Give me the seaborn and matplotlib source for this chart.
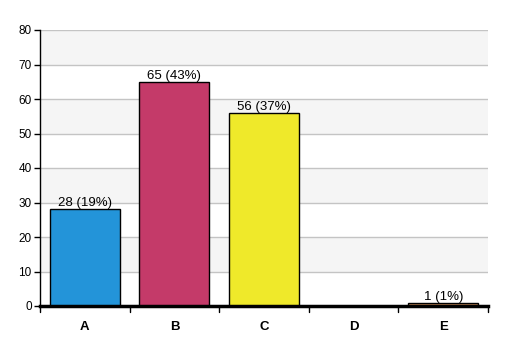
import matplotlib
matplotlib.use("Agg")
import matplotlib.pyplot as plt
import seaborn as sns
import pandas as pd

categories = ["A", "B", "C", "D", "E"]
counts = [28, 65, 56, 0, 1]
labels = ["28 (19%)", "65 (43%)", "56 (37%)", "", "1 (1%)"]
colors = ["#2394d9", "#c43a69", "#efe92a", "#8a8a8a", "#c98a55"]
yticks = [0, 10, 20, 30, 40, 50, 60, 70, 80]

sns.set_style("white")
plt.rcParams["font.family"] = ["Liberation Sans", "DejaVu Sans"]

df = pd.DataFrame({"cat": categories, "n": counts})
fig = plt.figure(figsize=(5.07, 3.56), dpi=100)
ax = fig.add_axes([40/507, 1 - 306/356, 448/507, 276/356])

for lo in range(10, 80, 20):
    ax.axhspan(lo, lo + 10, color="#f5f5f5", zorder=0, lw=0)
for t in yticks[1:]:
    ax.axhline(t, color="#c4c4c4", lw=1, zorder=0.5)

sns.barplot(data=df, x="cat", y="n", hue="cat", palette=colors, legend=False,
            saturation=1, width=0.78, edgecolor="black", linewidth=1, ax=ax, zorder=2)

for i, (v, lab) in enumerate(zip(counts, labels)):
    if lab:
        ax.text(i, v, lab, ha="center", va="bottom", fontsize=9.5, color="black", zorder=3)

ax.set_xlim(-0.5, 4.5)
ax.set_ylim(0, 80)
ax.set_yticks(yticks)
ax.set_yticklabels([str(t) for t in yticks], fontsize=8.5, color="black")
ax.set_xlabel("")
ax.set_ylabel("")
ax.set_xticks(range(5))
ax.set_xticklabels(categories, fontsize=9.5, fontweight="bold", color="black")
ax.tick_params(axis="x", length=0, pad=11)
ax.tick_params(axis="y", length=4, width=1, color="black", pad=2, left=True)
for b in [-0.5, 0.5, 1.5, 2.5, 3.5, 4.5]:
    ax.plot([b, b], [0, -1.8], color="black", lw=1, clip_on=False, zorder=4)

for s in ["top", "right"]:
    ax.spines[s].set_visible(False)
ax.spines["left"].set_color("black")
ax.spines["left"].set_linewidth(1)
ax.spines["bottom"].set_color("black")
ax.spines["bottom"].set_linewidth(2.5)
ax.spines["bottom"].set_zorder(5)

fig.savefig("out.png", dpi=100)
